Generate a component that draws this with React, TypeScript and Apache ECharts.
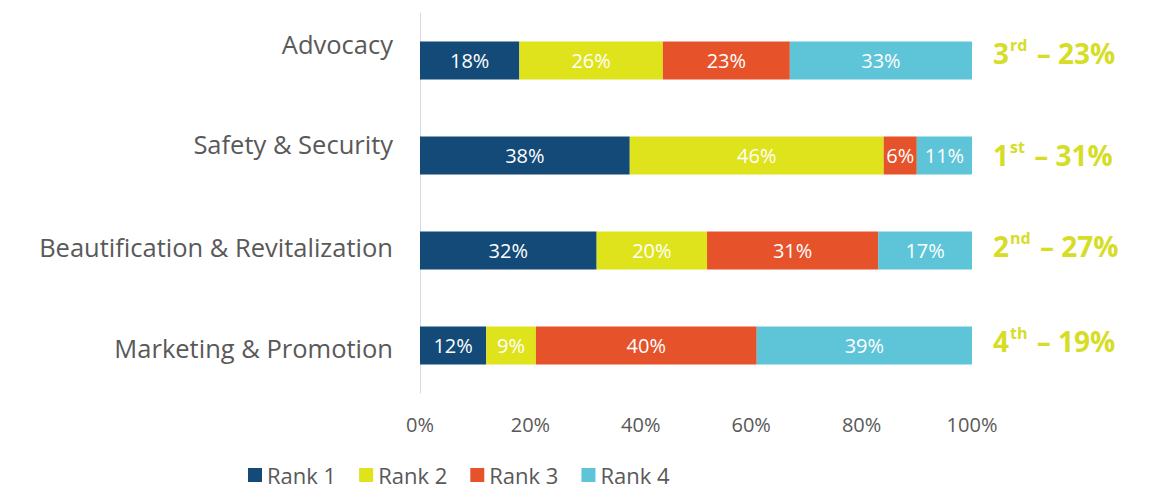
import React, { useEffect, useRef } from "react";
import * as echarts from "echarts";

const categories = ["Advocacy", "Safety & Security", "Beautification & Revitalization", "Marketing & Promotion"];
const seriesNames = ["Rank 1", "Rank 2", "Rank 3", "Rank 4"];
const rank1 = [18, 38, 32, 12];
const rank2 = [26, 46, 20, 9];
const rank3 = [23, 6, 31, 40];
const rank4 = [33, 11, 17, 39];
const overallPlace = ["3", "1", "2", "4"];
const overallSuffix = ["rd", "st", "nd", "th"];
const overallPct = [23, 31, 27, 19];
const xTicks = [0, 20, 40, 60, 80, 100];
const colors = ["#134a77", "#dfe31c", "#e6532a", "#5ec4d8"];

// vertical nudges (px, negative = up) for the label texts
const leftShift = [-17, -12, -4, 2];
const rightShift = [-8, -1, -5, -5];

function pad(shift: number): number[] {
  return shift < 0 ? [0, 0, -2 * shift, 0] : [2 * shift, 0, 0, 0];
}

export default function App() {
  const ref = useRef<HTMLDivElement>(null);
  useEffect(() => {
    if (!ref.current) return;
    const chart = echarts.init(ref.current, undefined, { renderer: "svg" });
    const font = "'Open Sans', 'Noto Sans', sans-serif";
    const data = [rank1, rank2, rank3, rank4];
    const green = "#d6dd27";
    const leftRich: any = {};
    const rightRich: any = {};
    categories.forEach((_, i) => {
      leftRich["c" + i] = { fontSize: 25.5, color: "#595959", fontFamily: font, padding: pad(leftShift[i]) };
      const rp = pad(rightShift[i]);
      rightRich["n" + i] = { fontSize: 28, fontWeight: "bold", color: green, fontFamily: font, padding: rp };
      rightRich["s" + i] = {
        fontSize: 16,
        fontWeight: "bold",
        color: green,
        fontFamily: font,
        padding: [rp[0], 2, rp[2] + 15, 1],
      };
    });
    chart.setOption({
      animation: false,
      textStyle: { fontFamily: font },
      legend: {
        data: seriesNames,
        left: 248,
        top: 462,
        padding: 0,
        icon: "rect",
        itemWidth: 14,
        itemHeight: 14,
        itemGap: 23,
        textStyle: { fontSize: 22, lineHeight: 26, color: "#595959", fontFamily: font, padding: [0, 0, 0, 0] },
      },
      grid: { left: 420, right: 200, top: 13, bottom: 99, containLabel: false },
      xAxis: {
        type: "value",
        min: xTicks[0],
        max: xTicks[xTicks.length - 1],
        interval: 20,
        axisLine: { show: false },
        axisTick: { show: false },
        splitLine: { show: false },
        axisLabel: {
          formatter: (v: number) => v + "%",
          fontSize: 20,
          color: "#595959",
          margin: 21,
          fontFamily: font,
        },
      },
      yAxis: [
        {
          type: "category",
          data: categories,
          inverse: true,
          axisLine: { show: true, lineStyle: { color: "#d9d9d9", width: 1 } },
          axisTick: { show: false },
          axisLabel: {
            margin: 27,
            formatter: (v: string) => {
              const i = categories.indexOf(v);
              return `{c${i}|${v}}`;
            },
            rich: leftRich,
          },
        },
        {
          type: "category",
          data: categories.map((_, i) => String(i)),
          inverse: true,
          position: "right",
          axisLine: { show: false },
          axisTick: { show: false },
          axisLabel: {
            margin: 21,
            align: "left",
            formatter: (v: string) => {
              const i = Number(v);
              return `{n${i}|${overallPlace[i]}}{s${i}|${overallSuffix[i]}}{n${i}| – ${overallPct[i]}%}`;
            },
            rich: rightRich,
          },
        },
      ],
      series: seriesNames.map((name, si) => ({
        name,
        type: "bar",
        stack: "total",
        yAxisIndex: 0,
        barWidth: 38,
        itemStyle: { color: colors[si] },
        label: {
          show: true,
          position: "inside",
          formatter: (p: any) => p.value + "%",
          color: "#ffffff",
          fontSize: 20,
          fontFamily: font,
        },
        data: data[si],
      })),
    });
    return () => chart.dispose();
  }, []);
  return <div ref={ref} style={{ width: 1172, height: 492, position: "absolute", left: 0, top: 0, background: "#fff" }} />;
}
